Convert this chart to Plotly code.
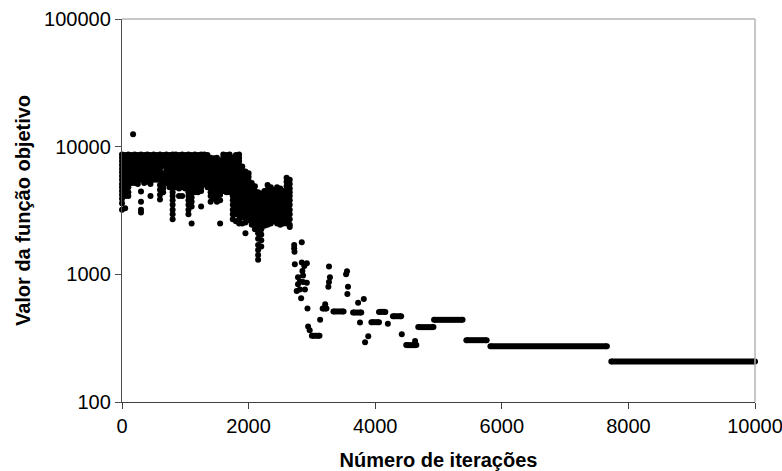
import plotly.graph_objects as go

# ---- data ----
cloud_iter = [0, 50, 100, 150, 200, 250, 300, 350, 400, 450, 500, 550, 600, 650, 700, 750,
              800, 850, 900, 950, 1000, 1050, 1100, 1150, 1200, 1250, 1300, 1350, 1400, 1450,
              1500, 1550, 1600, 1650, 1700, 1750, 1800, 1850, 1900, 1950, 2000, 2050, 2100,
              2150, 2200, 2250, 2300, 2350, 2400, 2450, 2500, 2550, 2600, 2650]
cloud_vals = [
    [8700, 8200, 7700, 7200, 6700, 6300, 5900, 5500, 5100, 4800, 4500, 4200, 3900, 3600, 3200],
    [8600, 8100, 7600, 7100, 6600, 6200, 5800, 5400, 5000, 4700, 4400, 4100, 3300],
    [8700, 8200, 7700, 7200, 6700, 6300, 5900, 5500, 5100, 4800, 4400, 4100],
    [8600, 8100, 7600, 7100, 6600, 6200, 5800, 5400, 5200],
    [8700, 8200, 7700, 7200, 6700, 6300, 5900, 5500, 5200],
    [8600, 8100, 7600, 7100, 6600, 6200, 5800, 5400, 5100],
    [8700, 8200, 7700, 7200, 6700, 6300, 5900, 5500, 4450, 3700, 3200, 3050],
    [8600, 8100, 7600, 7100, 6600, 6200, 5800, 5400, 5200],
    [8700, 8200, 7700, 7200, 6700, 6300, 5900, 5500, 5300],
    [8600, 8100, 7600, 7100, 6600, 6200, 5800, 5400, 5100, 4100],
    [8700, 8200, 7700, 7200, 6700, 6300, 5900, 5500],
    [8600, 8100, 7600, 7100, 6600, 6200, 5800, 5500],
    [8700, 8200, 7700, 7200, 6700, 6300, 5900, 5500, 5000, 4600, 4200, 3850],
    [8600, 8100, 7600, 7100, 6200, 5800, 5400, 5000, 4700, 4400],
    [8700, 8200, 7700, 7200, 6700, 6300, 5900, 5500, 5200],
    [8600, 8100, 7600, 7100, 6600, 6200, 5800, 5400, 5000, 4800],
    [8700, 8200, 7700, 7200, 6700, 6300, 5900, 5500, 5100, 4700, 4400, 4100, 3800, 3500, 3200, 2950, 2700],
    [8700, 8200, 7700, 7200, 6700, 6300, 5900, 5500, 5100, 4800],
    [8600, 8100, 7600, 7100, 6600, 6200, 5800, 5400, 5000, 4700, 4100],
    [8700, 8200, 7700, 7200, 6700, 6300, 5900, 5500, 5100, 4800, 4100],
    [8600, 8100, 7600, 7100, 6600, 6200, 5800, 5400, 5000, 4700],
    [8700, 8200, 7700, 7200, 6700, 6300, 5900, 5500, 5100, 4800, 4400, 4100, 3800, 3500, 3200, 2950],
    [8600, 8100, 7600, 7100, 6600, 6200, 5800, 5400, 5000, 4700, 4400, 4000, 3700, 3400, 2500],
    [8700, 8200, 7700, 7200, 6700, 6300, 5900, 5500, 5100, 4800, 4400],
    [8600, 8100, 7600, 7100, 6600, 6200, 5800, 5400, 5000, 4700, 4400],
    [8700, 8200, 7700, 7200, 6700, 6300, 5900, 5500, 5100, 4800, 4500, 3400],
    [8700, 8200, 7700, 7200, 6700, 6300, 5900, 5500, 5100],
    [8600, 8100, 7600, 7100, 6600, 6200, 5800, 5400, 5000, 4800],
    [8200, 7700, 7200, 6700, 6300, 5900, 5500, 5100, 4800, 4400, 4100, 3700],
    [8100, 7600, 7100, 6600, 6200, 5800, 5400, 5000, 4700, 4300, 3900],
    [8200, 7700, 7200, 6700, 6300, 5900, 5500, 5100, 4800, 4400, 4000, 3700],
    [7800, 7300, 6800, 6300, 5800, 5400, 5000, 4600, 4200, 3800, 2500],
    [8700, 8200, 7700, 7200, 6700, 6300, 5900, 5500, 5100, 4800, 4500],
    [8600, 8100, 7600, 7100, 6600, 6200, 5800, 5400, 5000, 4700, 4400],
    [8700, 8200, 7700, 7200, 6700, 6300, 5900, 5500, 5100, 4800, 4400],
    [8200, 7700, 7200, 6700, 6300, 5900, 5500, 5100, 4800, 4400, 4100, 3800, 3500, 3200, 2950, 2700],
    [8600, 8100, 7600, 7100, 6600, 6200, 5800, 5400, 5000, 4700, 4400, 4100, 3800, 3500, 3200, 2950, 2600],
    [8700, 8200, 7700, 7200, 6700, 6300, 5900, 5500, 5100, 4800, 4400, 4100, 3800, 3500, 3200, 2950, 2700, 2500],
    [7000, 6500, 6100, 5700, 5300, 4900, 4500, 4200, 3900, 3600, 3300, 3050, 2800, 2500],
    [6400, 6000, 5600, 5200, 4800, 4500, 4200, 3900, 3600, 3300, 3050, 2800, 2550, 2100],
    [6200, 5800, 5400, 5000, 4600, 4300, 4000, 3700, 3400, 3150, 2900, 2650],
    [5200, 4800, 4400, 4100, 3800, 3500, 3200, 2950, 2700, 2450],
    [4900, 4500, 4200, 3900, 3600, 3300, 3050, 2800, 2600, 2400, 2250],
    [4400, 4100, 3800, 3500, 3200, 2950, 2700, 2500, 2300, 2100, 1900, 1700, 1550, 1420, 1300],
    [4300, 4000, 3700, 3400, 3100, 2850, 2650, 2450, 2250, 2050, 1850, 1650],
    [4500, 4200, 3900, 3600, 3300, 3050, 2800, 2600, 2400],
    [5000, 4600, 4300, 4000, 3700, 3400, 3100, 2850, 2650, 2450],
    [4800, 4400, 4100, 3800, 3500, 3200, 2950, 2700, 2500],
    [4600, 4300, 4000, 3700, 3400, 3100, 2850, 2600],
    [4800, 4400, 4100, 3800, 3500, 3200, 2950, 2700, 2500],
    [4700, 4300, 4000, 3700, 3400, 3100, 2850, 2650, 2450],
    [4500, 4200, 3900, 3600, 3300, 3000, 2750, 2500],
    [5700, 5300, 4900, 4500, 4200, 3900, 3600, 3300, 3000, 2750, 2500],
    [5500, 5100, 4700, 4400, 4100, 3800, 3500, 3200, 2950, 2700, 2450, 2350],
]

outlier_iter = [175, 2720, 2720, 2725, 2840, 2730, 2840, 2920, 2880, 2850, 2860, 2780, 2810,
                2860, 2920, 2780, 2810, 2890, 2760, 2830, 2930, 2940, 2965, 3130, 3210, 3270,
                3285, 3270, 3260, 3555, 3540, 3570, 3560, 3730, 3820, 3760, 3890, 3840, 4200,
                4420, 4630]
outlier_val = [12500, 1700, 1600, 1500, 1780, 1200, 1240, 1220, 1160, 1060, 980, 950, 880,
               870, 860, 835, 760, 760, 740, 650, 540, 390, 365, 440, 583, 1150,
               948, 870, 800, 1055, 1000, 800, 700, 600, 640, 420, 328, 294, 410,
               340, 300]

plateau_start = [3000, 3170, 3340, 3650, 3940, 4060, 4280, 4490, 4680, 4930, 5440, 5820, 7730]
plateau_end   = [3120, 3230, 3500, 3780, 4060, 4160, 4410, 4650, 4920, 5380, 5760, 7660, 10000]
plateau_val   = [330, 540, 512, 502, 422, 508, 470, 279, 386, 440, 305, 273, 208]

x_ticks = [0, 2000, 4000, 6000, 8000, 10000]
x_tick_text = ["0", "2000", "4000", "6000", "8000", "10000"]
y_ticks = [100, 1000, 10000, 100000]
y_tick_text = ["100", "1000", "10000", "100000"]

# ---- build traces ----
pts_x, pts_y = [], []
for it, vals in zip(cloud_iter, cloud_vals):
    for v in vals:
        pts_x.append(it)
        pts_y.append(v)
pts_x += outlier_iter
pts_y += outlier_val

seg_x, seg_y = [], []
for s, e, v in zip(plateau_start, plateau_end, plateau_val):
    seg_x += [s, e, None]
    seg_y += [v, v, None]

FONT = "Liberation Sans, Arial, sans-serif"

fig = go.Figure()
fig.add_trace(go.Scatter(
    x=pts_x, y=pts_y, mode="markers",
    marker=dict(size=6, color="black", line=dict(width=0)),
    cliponaxis=False, showlegend=False, hoverinfo="skip"))
fig.add_trace(go.Scatter(
    x=seg_x, y=seg_y, mode="lines+markers",
    line=dict(color="black", width=6),
    marker=dict(size=6, color="black", line=dict(width=0)),
    cliponaxis=False, showlegend=False, hoverinfo="skip"))

fig.update_layout(
    width=782, height=471,
    margin=dict(l=122, r=27, t=19, b=69),
    paper_bgcolor="white", plot_bgcolor="white",
    font=dict(family=FONT, size=20, color="black"),
    xaxis=dict(
        range=[0, 10000], tickvals=x_ticks, ticktext=x_tick_text,
        ticks="outside", ticklen=6, automargin=False, ticklabeloverflow="allow",
        tickcolor="#404040", tickwidth=1.3, showline=True, linecolor="#404040",
        linewidth=1.3, showgrid=False, zeroline=False,
        tickfont=dict(family=FONT, size=20, color="black"),
        title=dict(text="<b>Número de iterações</b>", standoff=16,
                   font=dict(family=FONT, size=20, color="black"))),
    yaxis=dict(
        type="log", range=[2, 5], tickvals=y_ticks, ticktext=y_tick_text,
        ticks="outside", ticklen=6, automargin=False, tickcolor="#505050", tickwidth=1.3,
        showline=True, linecolor="#505050", linewidth=1.3,
        showgrid=False, zeroline=False,
        tickfont=dict(family=FONT, size=20, color="black"),
        title=dict(text="<b>Valor da função objetivo</b>", standoff=8,
                   font=dict(family=FONT, size=20, color="black"))),
    shapes=[
        dict(type="line", xref="paper", yref="paper", x0=0, x1=1, y0=1, y1=1,
             line=dict(color="#b4b4b4", width=1.5)),
        dict(type="line", xref="paper", yref="paper", x0=1, x1=1, y0=0, y1=1,
             line=dict(color="#b4b4b4", width=1.5)),
    ],
)

fig.write_html("out.html")
